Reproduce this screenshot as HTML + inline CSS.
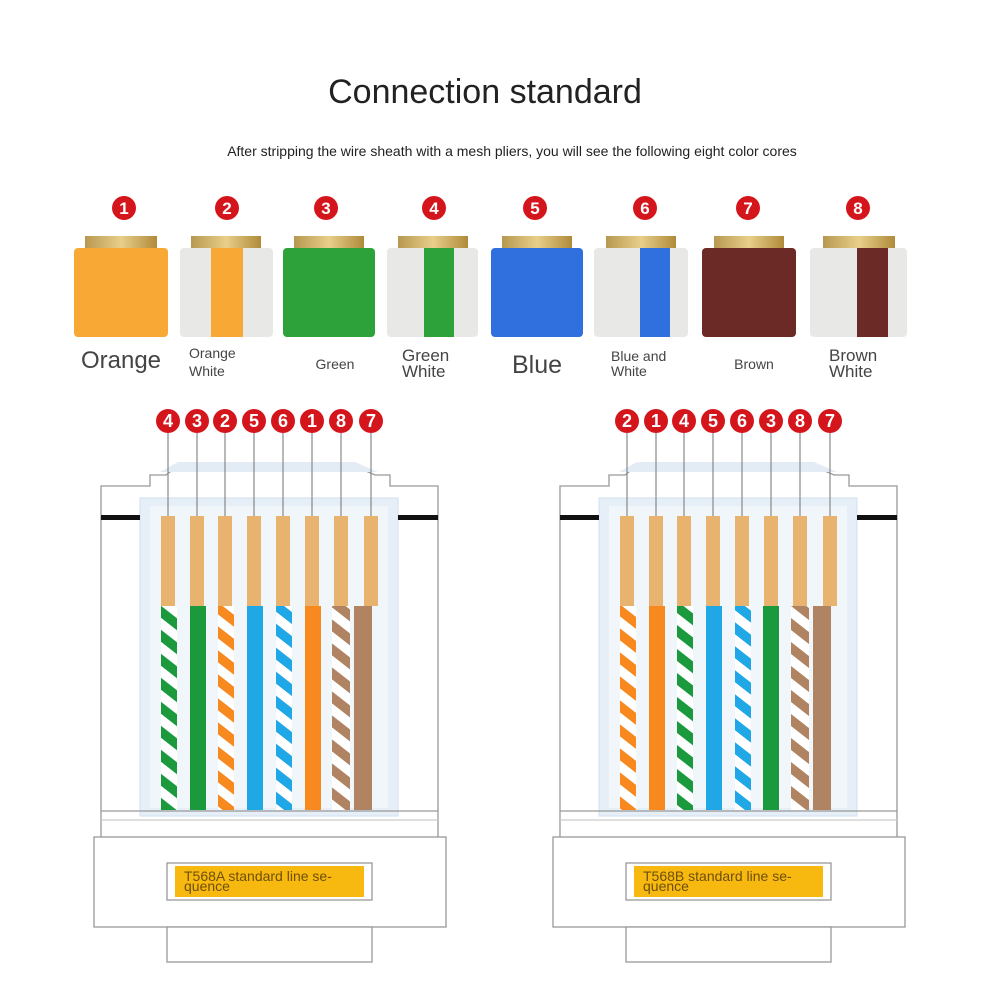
<!DOCTYPE html>
<html><head><meta charset="utf-8"><style>
html,body{margin:0;padding:0;background:#fff;width:1000px;height:1000px;overflow:hidden}
svg{display:block}
text{font-family:"Liberation Sans",sans-serif}
</style></head><body>
<svg width="1000" height="1000" viewBox="0 0 1000 1000" xmlns="http://www.w3.org/2000/svg">
<defs>
<pattern id="pg" patternUnits="userSpaceOnUse" width="40" height="24" patternTransform="skewY(38)"><rect width="40" height="24" fill="#fff"/><rect width="40" height="12" fill="#1a9a3c"/></pattern>
<pattern id="po" patternUnits="userSpaceOnUse" width="40" height="24" patternTransform="skewY(38)"><rect width="40" height="24" fill="#fff"/><rect width="40" height="12" fill="#f7891e"/></pattern>
<pattern id="pb" patternUnits="userSpaceOnUse" width="40" height="24" patternTransform="skewY(38)"><rect width="40" height="24" fill="#fff"/><rect width="40" height="12" fill="#1fa7e6"/></pattern>
<pattern id="pn" patternUnits="userSpaceOnUse" width="40" height="24" patternTransform="skewY(38)"><rect width="40" height="24" fill="#fff"/><rect width="40" height="12" fill="#b08463"/></pattern>
<linearGradient id="gold" x1="0" x2="1"><stop offset="0" stop-color="#b89850"/><stop offset=".5" stop-color="#e8cf8a"/><stop offset="1" stop-color="#b08a3a"/></linearGradient>
</defs>

<text x="485" y="103" font-size="34" text-anchor="middle" fill="#222">Connection standard</text>
<text x="512" y="156" font-size="14" text-anchor="middle" fill="#222">After stripping the wire sheath with a mesh pliers, you will see the following eight color cores</text>

<g>
<rect x="85" y="236" width="72" height="13" fill="url(#gold)"/><rect x="74" y="248" width="94" height="89" rx="4" fill="#f8a834"/>
<rect x="191" y="236" width="70" height="13" fill="url(#gold)"/><rect x="180" y="248" width="93" height="89" rx="4" fill="#e8e8e6"/><rect x="211" y="248" width="32" height="89" fill="#f8a834"/>
<rect x="294" y="236" width="70" height="13" fill="url(#gold)"/><rect x="283" y="248" width="92" height="89" rx="4" fill="#2ea23a"/>
<rect x="398" y="236" width="70" height="13" fill="url(#gold)"/><rect x="387" y="248" width="91" height="89" rx="4" fill="#e8e8e6"/><rect x="424" y="248" width="30" height="89" fill="#2ea23a"/>
<rect x="502" y="236" width="70" height="13" fill="url(#gold)"/><rect x="491" y="248" width="92" height="89" rx="4" fill="#2f6fde"/>
<rect x="606" y="236" width="70" height="13" fill="url(#gold)"/><rect x="594" y="248" width="94" height="89" rx="4" fill="#e8e8e6"/><rect x="640" y="248" width="30" height="89" fill="#2f6fde"/>
<rect x="714" y="236" width="70" height="13" fill="url(#gold)"/><rect x="702" y="248" width="94" height="89" rx="4" fill="#6b2a26"/>
<rect x="823" y="236" width="72" height="13" fill="url(#gold)"/><rect x="810" y="248" width="97" height="89" rx="4" fill="#e8e8e6"/><rect x="857" y="248" width="31" height="89" fill="#6b2a26"/>
</g>
<g font-weight="bold" font-size="17" fill="#fff" text-anchor="middle">
<circle cx="124" cy="208" r="12" fill="#d4161c"/><text x="124" y="214">1</text>
<circle cx="227" cy="208" r="12" fill="#d4161c"/><text x="227" y="214">2</text>
<circle cx="326" cy="208" r="12" fill="#d4161c"/><text x="326" y="214">3</text>
<circle cx="434" cy="208" r="12" fill="#d4161c"/><text x="434" y="214">4</text>
<circle cx="535" cy="208" r="12" fill="#d4161c"/><text x="535" y="214">5</text>
<circle cx="645" cy="208" r="12" fill="#d4161c"/><text x="645" y="214">6</text>
<circle cx="748" cy="208" r="12" fill="#d4161c"/><text x="748" y="214">7</text>
<circle cx="858" cy="208" r="12" fill="#d4161c"/><text x="858" y="214">8</text>
</g>
<g fill="#444">
<text x="121" y="368" font-size="24" text-anchor="middle">Orange</text>
<text x="189" y="358" font-size="14">Orange</text><text x="189" y="376" font-size="14">White</text>
<text x="335" y="369" font-size="14" text-anchor="middle">Green</text>
<text x="402" y="361" font-size="17">Green</text><text x="402" y="377" font-size="17">White</text>
<text x="537" y="373" font-size="25" text-anchor="middle">Blue</text>
<text x="611" y="361" font-size="14">Blue and</text><text x="611" y="376" font-size="14">White</text>
<text x="754" y="369" font-size="14" text-anchor="middle">Brown</text>
<text x="829" y="361" font-size="17">Brown</text><text x="829" y="377" font-size="17">White</text>
</g>

<g id="conn" fill="none" stroke="#999" stroke-width="1.3">
<path d="M101 838 V486 H150 V475 H166 L180 464 H350 L375 475 H390 V486 H438 V838" fill="#fff"/>
<path d="M178 462 H355 L378 472 H160 Z" fill="#e3ecf4" stroke="none"/>
<rect x="140" y="498" width="258" height="318" fill="#e6eff8" stroke="#d8e4f0"/>
<rect x="150" y="506" width="238" height="302" fill="#f1f6fb" stroke="none"/>
<rect x="101" y="515" width="39" height="5" fill="#111" stroke="none"/>
<rect x="398" y="515" width="40" height="5" fill="#111" stroke="none"/>
<line x1="101" y1="811" x2="438" y2="811"/>
<line x1="101" y1="820" x2="438" y2="820" stroke="#ccc"/>
<rect x="94" y="837" width="352" height="90" fill="#fff"/>
<rect x="167" y="863" width="205" height="37" fill="#fff"/>
<rect x="175" y="866" width="189" height="31" fill="#f7b90f" stroke="none"/>
<rect x="167" y="927" width="205" height="35" fill="#fff"/>
</g>
<use href="#conn" x="459"/>

<g stroke="#888" stroke-width="1.2">
<line x1="168" y1="432" x2="168" y2="520"/><line x1="197" y1="432" x2="197" y2="520"/><line x1="225" y1="432" x2="225" y2="520"/><line x1="254" y1="432" x2="254" y2="520"/><line x1="283" y1="432" x2="283" y2="520"/><line x1="312" y1="432" x2="312" y2="520"/><line x1="341" y1="432" x2="341" y2="520"/><line x1="371" y1="432" x2="371" y2="520"/>
<line x1="627" y1="432" x2="627" y2="520"/><line x1="656" y1="432" x2="656" y2="520"/><line x1="684" y1="432" x2="684" y2="520"/><line x1="713" y1="432" x2="713" y2="520"/><line x1="742" y1="432" x2="742" y2="520"/><line x1="771" y1="432" x2="771" y2="520"/><line x1="800" y1="432" x2="800" y2="520"/><line x1="830" y1="432" x2="830" y2="520"/>
</g>
<g fill="#e7b36e">
<rect x="161" y="516" width="14" height="90"/><rect x="190" y="516" width="14" height="90"/><rect x="218" y="516" width="14" height="90"/><rect x="247" y="516" width="14" height="90"/><rect x="276" y="516" width="14" height="90"/><rect x="305" y="516" width="14" height="90"/><rect x="334" y="516" width="14" height="90"/><rect x="364" y="516" width="14" height="90"/>
<rect x="620" y="516" width="14" height="90"/><rect x="649" y="516" width="14" height="90"/><rect x="677" y="516" width="14" height="90"/><rect x="706" y="516" width="14" height="90"/><rect x="735" y="516" width="14" height="90"/><rect x="764" y="516" width="14" height="90"/><rect x="793" y="516" width="14" height="90"/><rect x="823" y="516" width="14" height="90"/>
</g>
<g>
<rect x="161" y="606" width="16" height="204" fill="url(#pg)"/>
<rect x="190" y="606" width="16" height="204" fill="#1a9a3c"/>
<rect x="218" y="606" width="16" height="204" fill="url(#po)"/>
<rect x="247" y="606" width="16" height="204" fill="#1fa7e6"/>
<rect x="276" y="606" width="16" height="204" fill="url(#pb)"/>
<rect x="305" y="606" width="16" height="204" fill="#f7891e"/>
<rect x="332" y="606" width="18" height="204" fill="url(#pn)"/>
<rect x="354" y="606" width="18" height="204" fill="#b08463"/>
<rect x="620" y="606" width="16" height="204" fill="url(#po)"/>
<rect x="649" y="606" width="16" height="204" fill="#f7891e"/>
<rect x="677" y="606" width="16" height="204" fill="url(#pg)"/>
<rect x="706" y="606" width="16" height="204" fill="#1fa7e6"/>
<rect x="735" y="606" width="16" height="204" fill="url(#pb)"/>
<rect x="763" y="606" width="16" height="204" fill="#1a9a3c"/>
<rect x="791" y="606" width="18" height="204" fill="url(#pn)"/>
<rect x="813" y="606" width="18" height="204" fill="#b08463"/>
</g>
<g font-weight="bold" font-size="18" fill="#fff" text-anchor="middle">
<circle cx="168" cy="421" r="12" fill="#d4161c"/><text x="168" y="427">4</text>
<circle cx="197" cy="421" r="12" fill="#d4161c"/><text x="197" y="427">3</text>
<circle cx="225" cy="421" r="12" fill="#d4161c"/><text x="225" y="427">2</text>
<circle cx="254" cy="421" r="12" fill="#d4161c"/><text x="254" y="427">5</text>
<circle cx="283" cy="421" r="12" fill="#d4161c"/><text x="283" y="427">6</text>
<circle cx="312" cy="421" r="12" fill="#d4161c"/><text x="312" y="427">1</text>
<circle cx="341" cy="421" r="12" fill="#d4161c"/><text x="341" y="427">8</text>
<circle cx="371" cy="421" r="12" fill="#d4161c"/><text x="371" y="427">7</text>
<circle cx="627" cy="421" r="12" fill="#d4161c"/><text x="627" y="427">2</text>
<circle cx="656" cy="421" r="12" fill="#d4161c"/><text x="656" y="427">1</text>
<circle cx="684" cy="421" r="12" fill="#d4161c"/><text x="684" y="427">4</text>
<circle cx="713" cy="421" r="12" fill="#d4161c"/><text x="713" y="427">5</text>
<circle cx="742" cy="421" r="12" fill="#d4161c"/><text x="742" y="427">6</text>
<circle cx="771" cy="421" r="12" fill="#d4161c"/><text x="771" y="427">3</text>
<circle cx="800" cy="421" r="12" fill="#d4161c"/><text x="800" y="427">8</text>
<circle cx="830" cy="421" r="12" fill="#d4161c"/><text x="830" y="427">7</text>
</g>
<g fill="#6e4f0c" font-size="14">
<text x="184" y="881">T568A standard line se-</text><text x="184" y="891">quence</text>
<text x="643" y="881">T568B standard line se-</text><text x="643" y="891">quence</text>
</g>
</svg>
</body></html>
